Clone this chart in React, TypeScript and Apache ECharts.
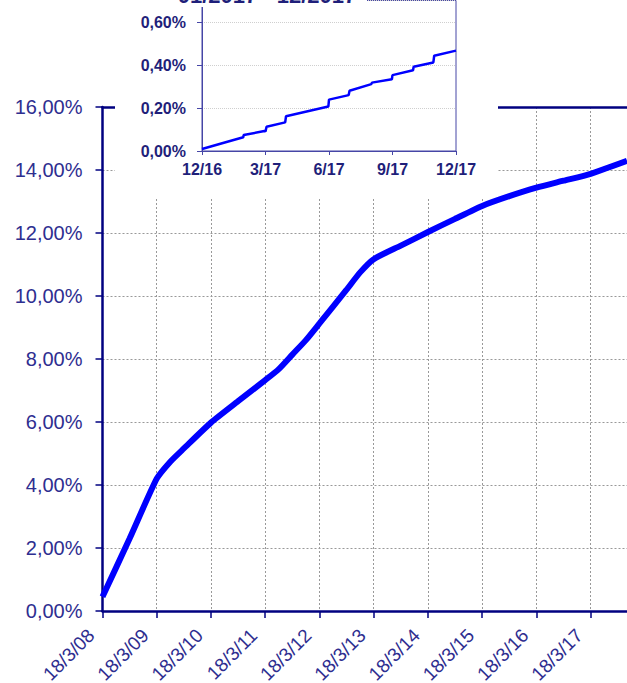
import React, { useEffect, useRef } from "react";
import * as echarts from "echarts";

// Main chart
const xLabels = ["18/3/08", "18/3/09", "18/3/10", "18/3/11", "18/3/12", "18/3/13", "18/3/14", "18/3/15", "18/3/16", "18/3/17"];
const mainX = [0, 0.5, 1, 1.25, 1.5, 2, 2.5, 3, 3.25, 3.5, 3.75, 4, 4.5, 4.75, 5, 5.5, 6, 6.5, 7, 7.5, 8, 8.5, 9, 9.67];
const mainY = [0.45, 2.3, 4.2, 4.74, 5.16, 5.98, 6.66, 7.33, 7.68, 8.14, 8.6, 9.13, 10.2, 10.75, 11.17, 11.6, 12.03, 12.45, 12.86, 13.17, 13.44, 13.66, 13.88, 14.29];

// Inset chart
const insetTitle = "01/2017 - 12/2017";
const insetTickLabels: Record<number, string> = { 0: "12/16", 3: "3/17", 6: "6/17", 9: "9/17", 12: "12/17" };
const insetMonths = [0, 1.2, 1.95, 1.97, 2.95, 3.0, 3.05, 3.93, 3.97, 5.97, 6.0, 6.93, 6.97, 8.0, 8.03, 8.97, 9.0, 9.97, 10.0, 10.93, 10.97, 12];
const insetValues = [0.009, 0.043, 0.064, 0.074, 0.093, 0.091, 0.113, 0.133, 0.162, 0.207, 0.239, 0.26, 0.28, 0.311, 0.318, 0.334, 0.353, 0.376, 0.392, 0.412, 0.443, 0.467];

const NAVY = "#000080";
const LABEL = "#2e2e90";
const INSET_LABEL = "#1f1f7a";
const FRAME = "#4646a6";
const FONT = "'Liberation Sans', Arial, sans-serif";

const pct = (v: number) => v.toFixed(2).replace(".", ",") + "%";

export default function App() {
  const ref = useRef<HTMLDivElement>(null);
  useEffect(() => {
    if (!ref.current) return;
    const chart = echarts.init(ref.current, undefined, { renderer: "svg" });
    const option: any = {
      animation: false,
      backgroundColor: "#ffffff",
      grid: [
        { left: 102.5, right: 0, top: 107, bottom: 72, containLabel: false, outerBoundsMode: "none" },
        {
          left: 202,
          right: 171,
          top: 0.5,
          bottom: 532,
          containLabel: false,
          outerBoundsMode: "none",
          show: true,
          z: 10,
          backgroundColor: "transparent",
          borderColor: FRAME,
          borderWidth: 1,
        },
      ],
      xAxis: [
        {
          type: "value",
          gridIndex: 0,
          min: 0,
          max: 9.67,
          interval: 1,
          axisLine: { show: true, onZero: false, lineStyle: { color: NAVY, width: 2.5 } },
          axisTick: { show: true, length: 7, lineStyle: { color: NAVY, width: 1.5 } },
          axisLabel: {
            rotate: 45,
            margin: 10,
            padding: [0, 16, 0, 0],
            fontSize: 19,
            fontFamily: FONT,
            color: LABEL,
            showMaxLabel: false,
            formatter: (v: number) => (Number.isInteger(v) && xLabels[v] ? xLabels[v] : ""),
          },
          splitLine: { show: true, lineStyle: { color: "#999999", type: [2, 2], width: 1 } },
        },
        {
          type: "value",
          gridIndex: 0,
          position: "top",
          min: 0,
          max: 9.67,
          axisLine: { show: true, onZero: false, lineStyle: { color: NAVY, width: 2.5 } },
          axisTick: { show: false },
          axisLabel: { show: false },
          splitLine: { show: false },
        },
        {
          type: "value",
          gridIndex: 1,
          z: 10,
          min: 0,
          max: 12,
          interval: 3,
          axisLine: { show: true, onZero: false, lineStyle: { color: FRAME, width: 1 } },
          axisTick: { show: true, length: 4, lineStyle: { color: FRAME, width: 1 } },
          axisLabel: {
            margin: 10,
            fontSize: 16,
            fontWeight: "bold",
            fontFamily: FONT,
            color: INSET_LABEL,
            formatter: (v: number) => insetTickLabels[v] ?? "",
          },
          splitLine: { show: false },
        },
      ],
      yAxis: [
        {
          type: "value",
          gridIndex: 0,
          min: 0,
          max: 16,
          interval: 2,
          axisLine: { show: true, onZero: false, lineStyle: { color: NAVY, width: 2.5 } },
          axisTick: { show: true, length: 7, lineStyle: { color: NAVY, width: 1.5 } },
          axisLabel: {
            margin: 20,
            fontSize: 20,
            fontFamily: FONT,
            color: LABEL,
            formatter: pct,
          },
          splitLine: { show: true, lineStyle: { color: "#999999", type: [2, 2], width: 1 } },
        },
        {
          type: "value",
          gridIndex: 1,
          z: 10,
          min: 0,
          max: 0.7,
          interval: 0.2,
          axisLine: { show: true, onZero: false, lineStyle: { color: FRAME, width: 1 } },
          axisTick: { show: true, length: 5, lineStyle: { color: FRAME, width: 1 } },
          axisLabel: {
            margin: 16,
            fontSize: 16,
            fontWeight: "bold",
            fontFamily: FONT,
            color: INSET_LABEL,
            showMaxLabel: false,
            formatter: (v: number) => (Math.abs(v * 5 - Math.round(v * 5)) < 1e-6 ? pct(v) : ""),
          },
          splitLine: { show: true, lineStyle: { color: "#cfcfcf", type: [1, 1], width: 1 } },
        },
      ],
      series: [
        {
          type: "line",
          xAxisIndex: 0,
          yAxisIndex: 0,
          data: mainX.map((x, i) => [x, mainY[i]]),
          showSymbol: false,
          smooth: 0.2,
          lineStyle: { color: "#0000ff", width: 6 },
          z: 2,
        },
        {
          type: "line",
          xAxisIndex: 2,
          yAxisIndex: 1,
          data: insetMonths.map((m, i) => [m, insetValues[i]]),
          showSymbol: false,
          lineStyle: { color: "#0000ff", width: 2.5 },
          z: 12,
        },
      ],
      graphic: [
        {
          type: "rect",
          z: 5,
          shape: { x: 115, y: -5, width: 383, height: 202 },
          style: { fill: "#ffffff" },
          silent: true,
        },
        {
          type: "rect",
          z: 50,
          shape: { x: 190, y: -40, width: 177, height: 47 },
          style: { fill: "#ffffff" },
          silent: true,
        },
        {
          type: "text",
          z: 51,
          x: 267,
          y: -5,
          style: {
            text: insetTitle,
            font: `bold 22px ${FONT}`,
            fill: INSET_LABEL,
            align: "center",
            verticalAlign: "middle",
            textAlign: "center",
            textVerticalAlign: "middle",
          },
          silent: true,
        },
      ],
    };
    chart.setOption(option);
    return () => chart.dispose();
  }, []);
  return (
    <div
      ref={ref}
      style={{ position: "absolute", left: 0, top: 0, width: 627, height: 683, background: "#fff" }}
    />
  );
}
